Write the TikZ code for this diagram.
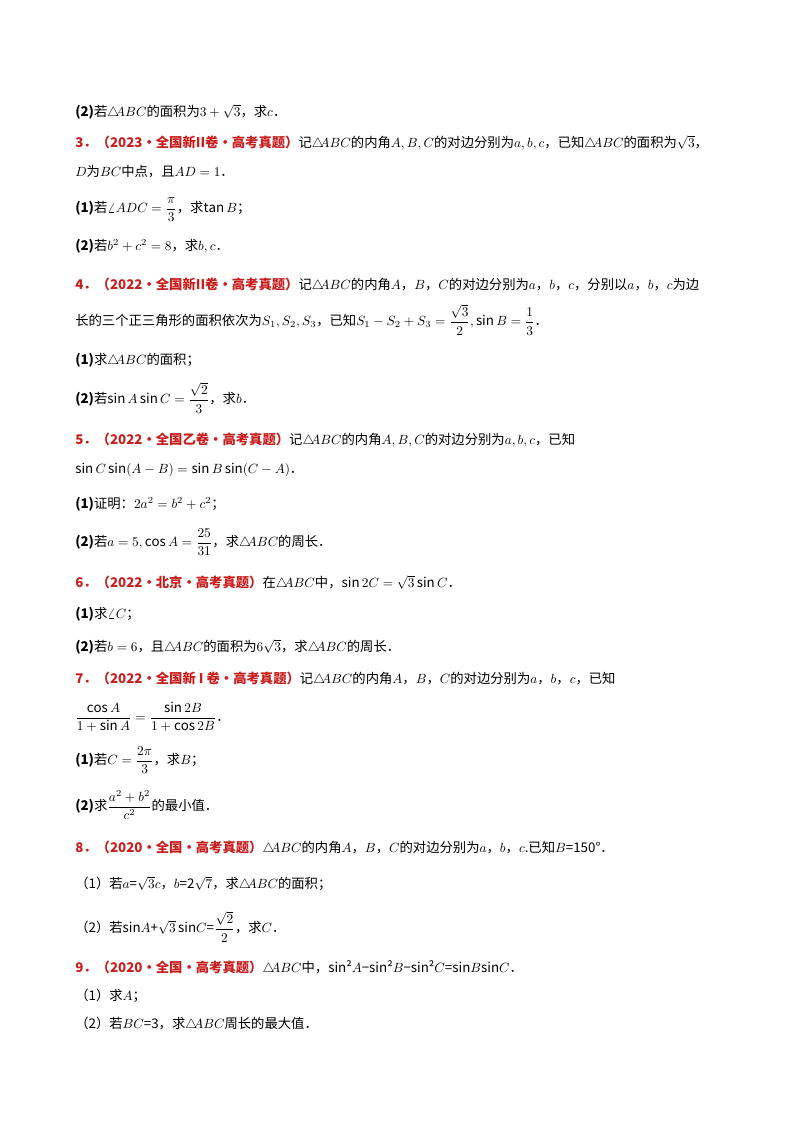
\documentclass[tikz,border=0pt]{standalone}
\usepackage{fontspec}
\setmainfont{Noto Sans CJK SC}
\usepackage{amsmath}
\definecolor{hd}{RGB}{200,30,30}
\begin{document}
\begin{tikzpicture}[x=0.75pt,y=-0.75pt,every node/.style={anchor=west,inner sep=0pt,font=\fontsize{10pt}{12pt}\selectfont}]
\useasboundingbox (0,0) rectangle (800,1132);
\newcommand{\hh}[1]{{\color{hd}\bfseries #1}}
\newcommand{\tri}{\triangle\hspace{-0.3em}ABC}
\node (l1) at (75,112) {\textbf{(2)}若$\tri$的面积为$3+\sqrt3$，求$c$．};
\node (l2) at (75,143) {\hh{3．（2023·全国新II卷·高考真题）}记$\tri$的内角$A,B,C$的对边分别为$a,b,c$，已知$\tri$的面积为$\sqrt3$，};
\node (l3) at (75,172) {$D$为$BC$中点，且$AD=1$．};
\node (l4) at (75,210) {\textbf{(1)}若$\angle ADC=\dfrac{\pi}{3}$，求$\tan B$；};
\node (l5) at (75,246) {\textbf{(2)}若$b^2+c^2=8$，求$b,c$．};
\node (l6) at (75,285) {\hh{4．（2022·全国新II卷·高考真题）}记$\tri$的内角$A$，$B$，$C$的对边分别为$a$，$b$，$c$，分别以$a$，$b$，$c$为边};
\node (l7) at (75,320) {长的三个正三角形的面积依次为$S_1,S_2,S_3$，已知$S_1-S_2+S_3=\dfrac{\sqrt3}{2},\sin B=\dfrac13$．};
\node (l8) at (75,360) {\textbf{(1)}求$\tri$的面积；};
\node (l9) at (75,398) {\textbf{(2)}若$\sin A\sin C=\dfrac{\sqrt2}{3}$，求$b$．};
\node (l10) at (75,440) {\hh{5．（2022·全国乙卷·高考真题）}记$\tri$的内角$A,B,C$的对边分别为$a,b,c$，已知};
\node (l11) at (75,470) {$\sin C\sin(A-B)=\sin B\sin(C-A)$．};
\node (l12) at (75,504) {\textbf{(1)}证明：$2a^2=b^2+c^2$；};
\node (l13) at (75,542) {\textbf{(2)}若$a=5,\cos A=\dfrac{25}{31}$，求$\tri$的周长．};
\node (l14) at (75,583) {\hh{6．（2022·北京·高考真题）}在$\tri$中，$\sin 2C=\sqrt3\sin C$．};
\node (l15) at (75,614) {\textbf{(1)}求$\angle C$；};
\node (l16) at (75,647) {\textbf{(2)}若$b=6$，且$\tri$的面积为$6\sqrt3$，求$\tri$的周长．};
\node (l17) at (75,679) {\hh{7．（2022·全国新 I 卷·高考真题）}记$\tri$的内角$A$，$B$，$C$的对边分别为$a$，$b$，$c$，已知};
\node (l18) at (75,717) {$\dfrac{\cos A}{1+\sin A}=\dfrac{\sin 2B}{1+\cos 2B}$．};
\node (l19) at (75,760) {\textbf{(1)}若$C=\dfrac{2\pi}{3}$，求$B$；};
\node (l20) at (75,805) {\textbf{(2)}求$\dfrac{a^2+b^2}{c^2}$的最小值．};
\node (l21) at (75,848) {\hh{8．（2020·全国·高考真题）}$\tri$的内角$A$，$B$，$C$的对边分别为$a$，$b$，$c$.已知$B$=150°．};
\node (l22) at (75,884) {（1）若$a$=$\sqrt3c$，$b$=2$\sqrt7$，求$\tri$的面积；};
\node (l23) at (75,927) {（2）若sin$A$+$\sqrt3$\,sin$C$=$\dfrac{\sqrt2}{2}$，求$C$．};
\node (l24) at (75,968) {\hh{9．（2020·全国·高考真题）}$\tri$中，sin²$A$−sin²$B$−sin²$C$=sin$B$sin$C$．};
\node (l25) at (75,996) {（1）求$A$；};
\node (l26) at (75,1024) {（2）若$BC$=3，求$\tri$周长的最大值．};
\end{tikzpicture}
\end{document}
